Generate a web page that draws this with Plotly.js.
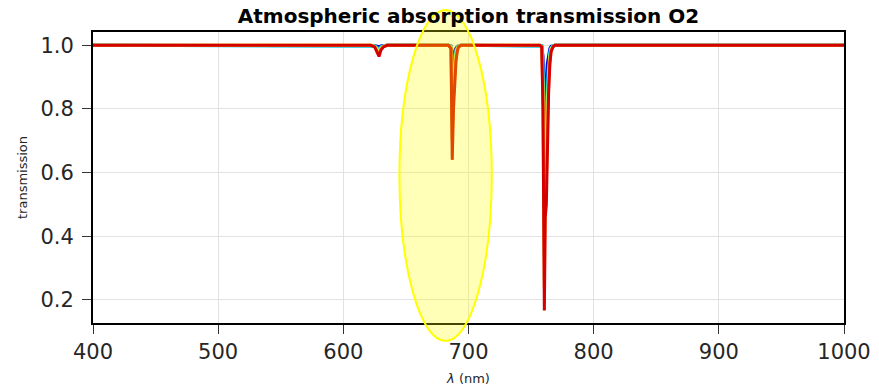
<!DOCTYPE html>
<html>
<head>
<meta charset="utf-8">
<script src="https://cdn.plot.ly/plotly-3.0.1.min.js"></script>
<style>html,body{margin:0;padding:0;background:#fff;}#chart{width:879px;height:391px;}</style>
</head>
<body>
<div id="chart"></div>
<script>
// wavelength grid (nm)
var wavelength = [400, 622, 625, 627, 628.5, 630, 632, 635, 684, 686, 687, 688, 689, 690, 691, 692, 694, 757, 758.5, 759.5, 760.6, 761.3, 762.2, 763, 764, 765, 766, 767.5, 769, 1000];

// transmission curves, lowest to highest airmass
var trans1 = [1, 1, 0.999, 0.997, 0.995, 0.998, 0.999, 1, 1, 0.998, 0.933, 0.966, 0.984, 0.992, 0.997, 0.999, 1, 1, 0.999, 0.966, 0.756, 0.886, 0.898, 0.942, 0.975, 0.990, 0.997, 0.999, 1, 1];
var trans2 = [1, 1, 0.998, 0.994, 0.989, 0.996, 0.998, 1, 1, 0.997, 0.875, 0.935, 0.969, 0.985, 0.994, 0.998, 1, 1, 0.998, 0.935, 0.584, 0.792, 0.812, 0.891, 0.952, 0.982, 0.994, 0.998, 1, 1];
var trans3 = [1, 1, 0.998, 0.991, 0.984, 0.993, 0.998, 1, 1, 0.996, 0.818, 0.905, 0.954, 0.977, 0.991, 0.998, 1, 1, 0.998, 0.905, 0.446, 0.705, 0.732, 0.841, 0.930, 0.973, 0.991, 0.998, 1, 1];
var trans4 = [1, 1, 0.997, 0.988, 0.979, 0.991, 0.997, 1, 1, 0.994, 0.765, 0.875, 0.939, 0.970, 0.988, 0.997, 1, 1, 0.997, 0.875, 0.340, 0.628, 0.660, 0.793, 0.907, 0.964, 0.988, 0.997, 1, 1];
var trans5 = [1, 1, 0.996, 0.984, 0.972, 0.988, 0.996, 1, 1, 0.992, 0.700, 0.837, 0.919, 0.960, 0.984, 0.996, 1, 1, 0.996, 0.837, 0.238, 0.537, 0.574, 0.735, 0.878, 0.952, 0.984, 0.996, 1, 1];
var trans6 = [1, 1, 0.995, 0.980, 0.965, 0.985, 0.995, 1, 1, 0.990, 0.640, 0.800, 0.900, 0.950, 0.980, 0.995, 1, 1, 0.995, 0.800, 0.166, 0.460, 0.500, 0.680, 0.850, 0.940, 0.980, 0.995, 1, 1];

var seriesList = [trans1, trans2, trans3, trans4, trans5, trans6];
var colors = ['#0000c0', '#0088ff', '#30ffc8', '#c8ff30', '#ff9000', '#d40000'];

var xTicks = [400, 500, 600, 700, 800, 900, 1000];
var yTicks = [0.2, 0.4, 0.6, 0.8, 1.0];

var traces = seriesList.map(function (s, i) {
  return {
    x: wavelength, y: s, type: 'scatter', mode: 'lines',
    line: {color: colors[i], width: 3},
    hoverinfo: 'skip', showlegend: false
  };
});

var font = 'DejaVu Sans, sans-serif';
var layout = {
  width: 879, height: 391,
  margin: {l: 93, r: 35, t: 32, b: 68},
  paper_bgcolor: '#fff', plot_bgcolor: '#fff',
  font: {family: font, color: '#262626'},
  title: {text: '<b>Atmospheric absorption transmission O2</b>', font: {family: font, size: 20, color: '#000'}, x: 0.533, xanchor: 'center', y: 0.958, yanchor: 'middle'},
  xaxis: {
    range: [400, 1000], tickvals: xTicks, ticktext: xTicks.map(String),
    showgrid: true, gridcolor: '#e2e2e2', gridwidth: 1, zeroline: false,
    showline: true, mirror: true, linecolor: '#000', linewidth: 2,
    ticks: 'outside', ticklen: 9, tickwidth: 1, tickcolor: '#333',
    tickfont: {family: font, size: 21, color: '#262626'},
    title: {text: '<i>λ</i> (nm)', font: {family: font, size: 13, color: '#262626'}, standoff: 11}
  },
  yaxis: {
    range: [0.127, 1.042], tickvals: yTicks, ticktext: yTicks.map(function (v) { return v.toFixed(1); }),
    showgrid: true, gridcolor: '#e2e2e2', gridwidth: 1, zeroline: false,
    showline: true, mirror: true, linecolor: '#000', linewidth: 2,
    ticks: 'outside', ticklen: 9, tickwidth: 1, tickcolor: '#333',
    ticklabelstandoff: 4,
    tickfont: {family: font, size: 21, color: '#262626'},
    title: {text: 'transmission', font: {family: font, size: 13, color: '#262626'}, standoff: 10}
  },
  shapes: [{
    type: 'circle', xref: 'paper', yref: 'paper',
    x0: 0.408, x1: 0.531, y0: -0.062, y1: 1.076,
    fillcolor: 'rgba(255,255,0,0.28)', line: {color: '#ffff00', width: 2},
    layer: 'above'
  }]
};

Plotly.newPlot('chart', traces, layout, {staticPlot: true, displayModeBar: false});
</script>
</body>
</html>
